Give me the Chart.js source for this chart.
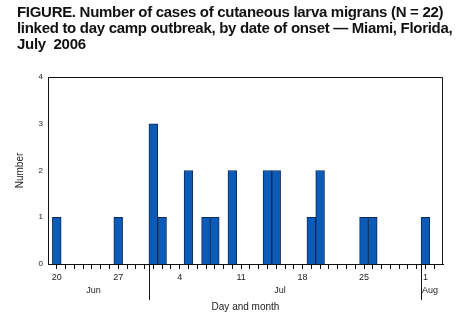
<!DOCTYPE html>
<html>
<head>
<meta charset="utf-8">
<script src="https://cdn.jsdelivr.net/npm/chart.js@4.4.1/dist/chart.umd.min.js"></script>
<style>
  html, body { margin: 0; padding: 0; background: #fff; }
  #wrap { position: relative; width: 460px; height: 324px; }
  #title {
    position: absolute; left: 17px; top: 4px;
    font: bold 15px "Liberation Sans", Arial, sans-serif;
    letter-spacing: -0.3px;
    line-height: 16.2px; color: #111; white-space: nowrap;
  }
  canvas { position: absolute; left: 0; top: 0; }
</style>
</head>
<body>
<div id="wrap">
  <canvas id="chart" width="460" height="324"></canvas>
  <div id="title">FIGURE. Number of cases of cutaneous larva migrans (N = 22)<br>linked to day camp outbreak, by date of onset — Miami, Florida,<br>July&nbsp; 2006</div>
</div>
<script>
// day index 0 = Jun 20, 2006
const onsetDays = [0, 7, 11, 12, 15, 17, 18, 20, 24, 25, 29, 30, 35, 36, 42];
const caseCounts = [1, 1, 3, 1, 2, 1, 1, 2, 2, 2, 1, 2, 1, 1, 1];
const dayLabels = { 0: '20', 7: '27', 14: '4', 21: '11', 28: '18', 35: '25', 42: '1' };
const months = [
  { name: 'Jun', from: -1, to: 10.5 },
  { name: 'Jul', from: 10.5, to: 41.5 },
  { name: 'Aug', from: 41.5, to: 44 }
];

const FONT = '"Liberation Sans", Arial, sans-serif';

const frame = {
  id: 'frame',
  afterDraw(chart) {
    const { ctx, chartArea: a, scales } = chart;
    const x = scales.x;
    ctx.save();
    ctx.strokeStyle = '#111';
    ctx.lineWidth = 1;
    ctx.beginPath();
    ctx.moveTo(a.left, a.top + 0.5);
    ctx.lineTo(a.right - 0.5, a.top + 0.5);
    ctx.lineTo(a.right - 0.5, a.bottom);
    ctx.stroke();

    // month separators and names
    ctx.fillStyle = '#222';
    ctx.font = '9px ' + FONT;
    ctx.textBaseline = 'middle';
    months.forEach((m, i) => {
      if (i > 0) {
        const px = Math.round(x.getPixelForValue(m.from)) + 0.5;
        ctx.beginPath();
        ctx.moveTo(px, a.bottom);
        ctx.lineTo(px, 300);
        ctx.stroke();
      }
      if (m.name === 'Aug') {
        ctx.textAlign = 'left';
        ctx.fillText(m.name, x.getPixelForValue(m.from) + 1, 291);
      } else {
        ctx.textAlign = 'center';
        ctx.fillText(m.name, (x.getPixelForValue(m.from) + x.getPixelForValue(m.to)) / 2 - 5, 291);
      }
    });

    ctx.font = '10px ' + FONT;
    ctx.textAlign = 'center';
    ctx.fillText('Day and month', (a.left + a.right) / 2, 307);

    ctx.translate(20, (a.top + a.bottom) / 2);
    ctx.rotate(-Math.PI / 2);
    ctx.fillText('Number', 0, 0);
    ctx.restore();
  }
};

new Chart(document.getElementById('chart'), {
  type: 'bar',
  data: {
    datasets: [{
      data: onsetDays.map((d, i) => ({ x: d, y: caseCounts[i] })),
      backgroundColor: '#0a5cb8',
      borderColor: '#102a55',
      borderWidth: 1,
      barPercentage: 1,
      categoryPercentage: 1
    }]
  },
  options: {
    responsive: false,
    animation: false,
    layout: { padding: { top: 77, right: 17, left: 0, bottom: 0 } },
    plugins: { legend: { display: false }, tooltip: { enabled: false } },
    scales: {
      x: {
        type: 'linear',
        offset: false,
        min: -1,
        max: 44,
        afterBuildTicks(axis) {
          const t = [];
          for (let v = 0; v <= 43; v++) t.push({ value: v });
          axis.ticks = t;
        },
        afterFit(axis) { axis.height = 60; axis.paddingLeft = 0; axis.paddingRight = 0; },
        grid: { offset: false, drawOnChartArea: false, tickLength: 5, color: '#111', tickWidth: 1 },
        border: { color: '#111', width: 1 },
        ticks: {
          autoSkip: false,
          maxRotation: 0,
          padding: 3,
          color: '#222',
          font: { family: FONT, size: 9 },
          callback: v => dayLabels[v] || ''
        }
      },
      y: {
        min: 0,
        max: 4,
        afterFit(axis) { axis.width = 48; axis.paddingTop = 0; axis.paddingBottom = 0; },
        grid: { display: false, drawTicks: false },
        border: { color: '#111', width: 1 },
        ticks: {
          stepSize: 1,
          padding: 5,
          color: '#222',
          font: { family: FONT, size: 8 }
        }
      }
    }
  },
  plugins: [frame]
});
</script>
</body>
</html>
